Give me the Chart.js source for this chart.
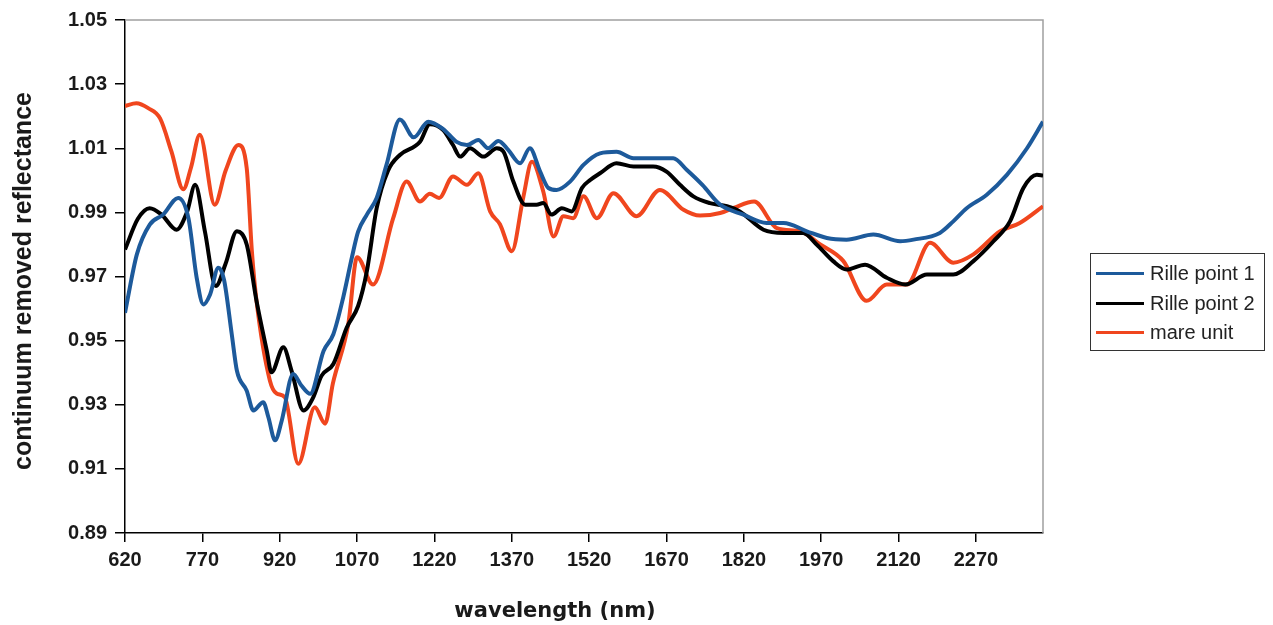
<!DOCTYPE html>
<html>
<head>
<meta charset="utf-8">
<title>Continuum removed spectra</title>
<script src="https://cdn.jsdelivr.net/npm/chart.js@4"></script>
<style>
  html, body { margin: 0; padding: 0; background: #fff; }
  #wrap { position: relative; width: 1273px; height: 625px; }
  #legend {
    position: absolute; left: 1090px; top: 253px; width: 175px; height: 98px;
    box-sizing: border-box; border: 1px solid #333; padding-top: 5px;
    font: 20px "Liberation Sans", Arial, sans-serif; color: #222;
  }
  .item { display: flex; align-items: center; height: 29.5px; white-space: nowrap; }
  .swatch { width: 48px; height: 3px; margin: 0 6px 0 5px; }
</style>
</head>
<body>
<div id="wrap">
  <canvas id="spectraChart" width="1273" height="625"></canvas>
  <div id="legend"></div>
</div>
<script>
const xTicks = [620, 770, 920, 1070, 1220, 1370, 1520, 1670, 1820, 1970, 2120, 2270];
const yTicks = [0.89, 0.91, 0.93, 0.95, 0.97, 0.99, 1.01, 1.03, 1.05];
const seriesNames = ['Rille point 1', 'Rille point 2', 'mare unit'];
const seriesColors = ['#1d5a9b', '#000000', '#f0461e'];
const xTitle = 'wavelength (nm)';
const yTitle = 'continuum removed reflectance';

// Rille point 1
const rille1Nm = [620, 643, 668, 694, 723, 743, 759, 772, 785, 801, 812, 827, 837, 856, 869, 888, 898, 911, 924, 946,
  962, 979, 1005, 1024, 1043, 1060, 1072, 1089, 1108, 1127, 1153, 1180, 1208, 1237, 1263, 1283, 1305, 1324, 1344, 1363,
  1386, 1405, 1425, 1441, 1457, 1483, 1509, 1541, 1573, 1606, 1644, 1683, 1709, 1740, 1774, 1819, 1864, 1897, 1942, 1981,
  2019, 2071, 2123, 2149, 2200, 2226, 2252, 2291, 2330, 2369, 2400];
const rille1Val = [0.9587, 0.9769, 0.9862, 0.9893, 0.9945, 0.9882, 0.9696, 0.9613, 0.9644, 0.9727, 0.9690, 0.9520, 0.9406, 0.9344, 0.9282, 0.9308, 0.9261, 0.9189, 0.9251, 0.9396,
  0.9360, 0.9334, 0.9468, 0.9520, 0.9634, 0.9760, 0.9840, 0.9893, 0.9945, 1.0048, 1.0190, 1.0134, 1.0183, 1.0160, 1.0120, 1.0110, 1.0126, 1.0100, 1.0123, 1.0095,
  1.0053, 1.0100, 1.0027, 0.9976, 0.9970, 0.9996, 1.0048, 1.0084, 1.0089, 1.0069, 1.0069, 1.0069, 1.0033, 0.9985, 0.9924, 0.9893, 0.9867, 0.9867, 0.9841, 0.9820,
  0.9815, 0.9831, 0.9810, 0.9815, 0.9836, 0.9872, 0.9913, 0.9955, 1.0017, 1.0100, 1.0183];

// Rille point 2
const rille2Nm = [620, 645, 668, 691, 720, 740, 756, 775, 796, 815, 837, 856, 875, 895, 904, 927, 943, 966, 985, 1001,
  1024, 1050, 1072, 1089, 1108, 1130, 1153, 1192, 1211, 1237, 1256, 1270, 1289, 1315, 1341, 1354, 1373, 1396, 1418, 1431,
  1447, 1467, 1486, 1506, 1522, 1541, 1573, 1606, 1644, 1670, 1696, 1722, 1754, 1787, 1812, 1858, 1897, 1935, 1961, 1993,
  2019, 2055, 2097, 2133, 2175, 2226, 2265, 2304, 2336, 2362, 2388, 2400];
const rille2Val = [0.9784, 0.9880, 0.9913, 0.9893, 0.9846, 0.9900, 0.9986, 0.9840, 0.9670, 0.9740, 0.9841, 0.9800, 0.9624, 0.9468, 0.9401, 0.9479, 0.9406, 0.9282, 0.9323, 0.9390,
  0.9427, 0.9541, 0.9608, 0.9717, 0.9913, 1.0030, 1.0079, 1.0120, 1.0175, 1.0157, 1.0110, 1.0074, 1.0100, 1.0074, 1.0100, 1.0089, 0.9996, 0.9924, 0.9924, 0.9929,
  0.9893, 0.9913, 0.9903, 0.9976, 1.0001, 1.0022, 1.0053, 1.0043, 1.0043, 1.0027, 0.9986, 0.9950, 0.9929, 0.9919, 0.9903, 0.9846, 0.9836, 0.9836, 0.9800, 0.9748,
  0.9722, 0.9737, 0.9696, 0.9675, 0.9706, 0.9706, 0.9748, 0.9810, 0.9872, 0.9976, 1.0017, 1.0015];

// mare unit
const mareNm = [620, 642, 665, 688, 710, 733, 748, 765, 794, 815, 840, 856, 866, 875, 901, 914, 930, 956, 988, 1008,
  1023, 1053, 1070, 1101, 1140, 1166, 1192, 1211, 1229, 1256, 1283, 1305, 1328, 1347, 1370, 1392, 1409, 1431, 1451, 1470,
  1489, 1509, 1535, 1567, 1612, 1657, 1703, 1735, 1774, 1800, 1840, 1884, 1929, 1968, 2013, 2058, 2097, 2136, 2181, 2226,
  2265, 2317, 2355, 2400];
const mareVal = [1.0232, 1.0240, 1.0225, 1.0193, 1.0090, 0.9972, 1.0040, 1.0142, 0.9924, 1.0030, 1.0110, 1.0038, 0.9779, 0.9624, 0.9375, 0.9335, 0.9323, 0.9116, 0.9292, 0.9241,
  0.9366, 0.9552, 0.9760, 0.9675, 0.9882, 0.9996, 0.9934, 0.9958, 0.9945, 1.0012, 0.9986, 1.0022, 0.9903, 0.9863, 0.9779, 0.9945, 1.0058, 0.9965, 0.9825, 0.9888,
  0.9882, 0.9950, 0.9882, 0.9960, 0.9888, 0.9970, 0.9908, 0.9890, 0.9898, 0.9914, 0.9934, 0.9851, 0.9841, 0.9800, 0.9748, 0.9624, 0.9675, 0.9675, 0.9805, 0.9743,
  0.9769, 0.9841, 0.9867, 0.9919];

function toPoints(xs, ys) {
  return xs.map((x, i) => ({ x: x, y: ys[i] }));
}

const seriesData = [toPoints(rille1Nm, rille1Val), toPoints(rille2Nm, rille2Val), toPoints(mareNm, mareVal)];

const tickFont = { family: '"Liberation Sans", Arial, sans-serif', weight: 'bold', size: 20 };

// light grey frame along the top and right of the plot area
const plotFrame = {
  id: 'plotFrame',
  beforeDatasetsDraw(chart) {
    const { ctx, chartArea: a } = chart;
    ctx.save();
    ctx.strokeStyle = '#a0a0a0';
    ctx.lineWidth = 1.5;
    ctx.beginPath();
    ctx.moveTo(a.left, a.top);
    ctx.lineTo(a.right, a.top);
    ctx.lineTo(a.right, a.bottom);
    ctx.stroke();
    ctx.restore();
  }
};

// axis titles, drawn by hand so they can sit off-centre
const axisTitles = {
  id: 'axisTitles',
  afterDraw(chart) {
    const ctx = chart.ctx;
    ctx.save();
    ctx.fillStyle = '#1a1a1a';
    ctx.textAlign = 'center';
    ctx.textBaseline = 'middle';
    ctx.font = 'bold 21px "DejaVu Sans", Verdana, sans-serif';
    ctx.fillText(xTitle, 555, 612);
    ctx.translate(24, 281);
    ctx.rotate(-Math.PI / 2);
    ctx.font = 'bold 25px "Liberation Sans", Arial, sans-serif';
    ctx.fillText(yTitle, 0, 0);
    ctx.restore();
  }
};

const chart = new Chart(document.getElementById('spectraChart').getContext('2d'), {
  type: 'line',
  data: {
    datasets: seriesNames.map((name, i) => ({
      label: name,
      data: seriesData[i],
      borderColor: seriesColors[i],
      backgroundColor: seriesColors[i],
      borderWidth: 4,
      pointRadius: 0,
      fill: false,
      cubicInterpolationMode: 'monotone'
    }))
  },
  options: {
    responsive: false,
    animation: false,
    layout: { padding: { top: 17, right: 230, left: 0, bottom: 0 } },
    plugins: { legend: { display: false }, tooltip: { enabled: false } },
    scales: {
      x: {
        type: 'linear',
        min: 620,
        max: 2400,
        afterBuildTicks: axis => { axis.ticks = xTicks.map(v => ({ value: v })); },
        afterFit: axis => { axis.height = 92; },
        border: { color: '#000', width: 1.5 },
        grid: { drawOnChartArea: false, drawTicks: true, tickLength: 9, color: '#000', lineWidth: 1.5 },
        ticks: { font: tickFont, color: '#1a1a1a', padding: 6, maxRotation: 0, autoSkip: false, callback: v => String(v) }
      },
      y: {
        min: 0.89,
        max: 1.05,
        afterBuildTicks: axis => { axis.ticks = yTicks.map(v => ({ value: v })); },
        afterFit: axis => { axis.width = 125; },
        border: { color: '#000', width: 1.5 },
        grid: { drawOnChartArea: false, drawTicks: true, tickLength: 10, color: '#000', lineWidth: 1.5 },
        ticks: { font: tickFont, color: '#1a1a1a', padding: 8, callback: v => v.toFixed(2) }
      }
    }
  },
  plugins: [plotFrame, axisTitles]
});

const legendTarget = document.getElementById('legend');
legendTarget.innerHTML = chart.data.datasets.map(ds =>
  `<div class="item"><span class="swatch" style="background:${ds.borderColor}"></span><span>${ds.label}</span></div>`
).join('');
</script>
</body>
</html>
